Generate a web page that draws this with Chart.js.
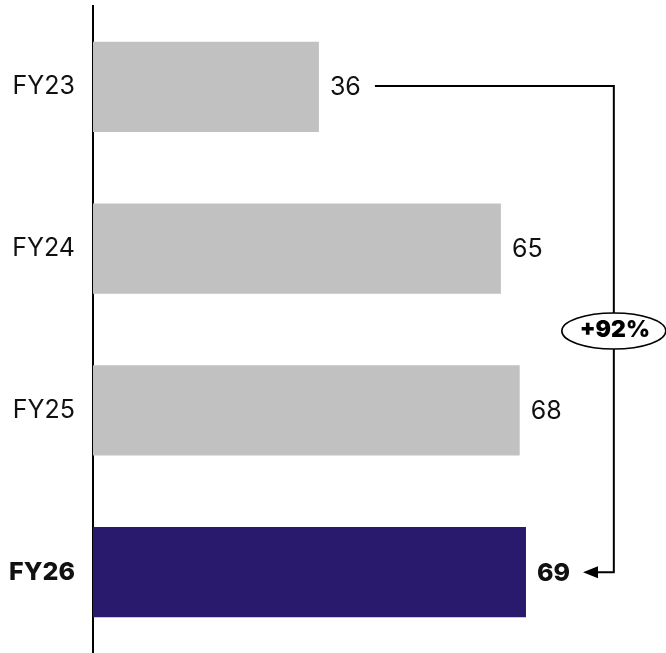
<!DOCTYPE html>
<html>
<head>
<meta charset="utf-8">
<script src="https://cdn.jsdelivr.net/npm/chart.js@4/dist/chart.umd.min.js"></script>
<style>
  html, body { margin: 0; padding: 0; background: #fff; overflow: hidden; }
  canvas { display: block; }
</style>
</head>
<body>
<canvas id="chart" width="666" height="653"></canvas>
<script>
const years = ["FY23", "FY24", "FY25", "FY26"];
const revenue = [36, 65, 68, 69];
const growthText = "+92%";

const grey = "#c1c1c1";
const purple = "#2a1a6e";
const FONT = "Inter, 'Liberation Sans', Arial, sans-serif";

// value labels at the end of each bar
const valueLabels = {
  id: "valueLabels",
  afterDatasetsDraw(chart) {
    const ctx = chart.ctx;
    const meta = chart.getDatasetMeta(0);
    ctx.save();
    ctx.fillStyle = "#111";
    ctx.textBaseline = "middle";
    ctx.textAlign = "left";
    meta.data.forEach((bar, i) => {
      const last = i === revenue.length - 1;
      ctx.font = (last ? "800 " : "") + "25px " + FONT;
      ctx.fillText(revenue[i], bar.x + 11, bar.y + 1);
    });
    ctx.restore();
  }
};

// bracket from first to last year with growth bubble
const growthBracket = {
  id: "growthBracket",
  afterDraw(chart) {
    const ctx = chart.ctx;
    const meta = chart.getDatasetMeta(0);
    const xs = chart.scales.x;
    const first = meta.data[0], last = meta.data[meta.data.length - 1];
    const lineX = xs.getPixelForValue(83);
    const startX = first.x + 56;
    const endX = last.x + 57;
    const y1 = first.y - 1, y2 = last.y;

    ctx.save();
    ctx.strokeStyle = "#000";
    ctx.lineWidth = 2;
    ctx.beginPath();
    ctx.moveTo(startX, y1);
    ctx.lineTo(lineX, y1);
    ctx.lineTo(lineX, y2);
    ctx.lineTo(endX + 12, y2);
    ctx.stroke();

    ctx.fillStyle = "#000";
    ctx.beginPath();
    ctx.moveTo(endX, y2);
    ctx.lineTo(endX + 15, y2 - 6);
    ctx.lineTo(endX + 15, y2 + 6);
    ctx.closePath();
    ctx.fill();

    const cy = (y1 + y2) / 2 + 2;
    ctx.beginPath();
    ctx.ellipse(lineX, cy, 52, 18, 0, 0, Math.PI * 2);
    ctx.fillStyle = "#fff";
    ctx.fill();
    ctx.lineWidth = 1.6;
    ctx.stroke();

    ctx.fillStyle = "#000";
    ctx.font = "900 23px " + FONT;
    ctx.textAlign = "center";
    ctx.textBaseline = "middle";
    ctx.fillText(growthText, lineX + 1, cy - 1);
    ctx.restore();
  }
};

new Chart(document.getElementById("chart"), {
  type: "bar",
  data: {
    labels: years,
    datasets: [{
      data: revenue,
      backgroundColor: revenue.map((v, i) => i === revenue.length - 1 ? purple : grey),
      borderWidth: 0,
      barPercentage: 0.557,
      categoryPercentage: 1
    }]
  },
  options: {
    indexAxis: "y",
    responsive: false,
    animation: false,
    layout: { padding: { top: 6, right: 71, bottom: 0, left: 0 } },
    plugins: {
      legend: { display: false },
      tooltip: { enabled: false }
    },
    scales: {
      x: {
        display: false,
        min: 0,
        max: 80
      },
      y: {
        afterFit(scale) {
          scale.width = 93;
          scale.paddingTop = 0;
          scale.paddingBottom = 0;
        },
        grid: { display: true, drawOnChartArea: false, drawTicks: false },
        border: { display: true, color: "#000", width: 2 },
        ticks: {
          padding: 18,
          color: "#111",
          font: (c) => ({
            family: FONT,
            size: 25,
            weight: c.index === years.length - 1 ? "800" : "normal"
          })
        }
      }
    }
  },
  plugins: [valueLabels, growthBracket]
});
</script>
</body>
</html>
